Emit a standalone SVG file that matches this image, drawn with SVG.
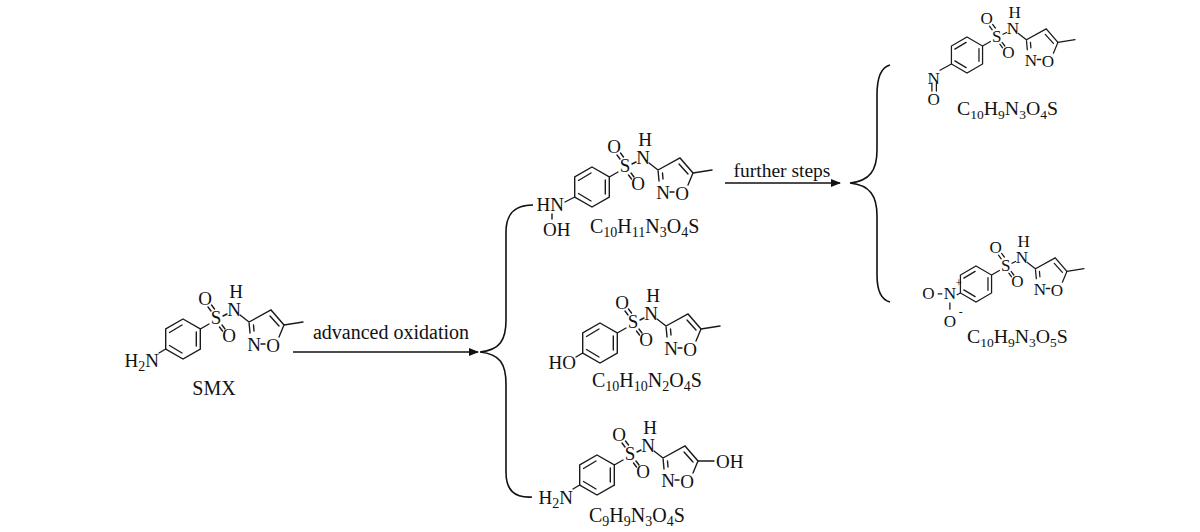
<svg xmlns="http://www.w3.org/2000/svg" xmlns:xlink="http://www.w3.org/1999/xlink" width="1200" height="532" viewBox="0 0 1200 532">
<style>
.b{fill:none;stroke:#1a1a1a;stroke-width:1.4;stroke-linecap:round}
.c{fill:none;stroke:#111;stroke-width:1.6}
text{font-family:"Liberation Serif","Times New Roman",serif;fill:#111}
.a{font-size:19px;text-anchor:middle}
.f{font-size:20px}
.s{font-size:14px}
</style>
<defs>
<marker id="ah" markerWidth="10" markerHeight="8" refX="9" refY="4" orient="auto" markerUnits="userSpaceOnUse"><path d="M0,0 L10,4 L0,8 Z" fill="#111"/></marker>
<path id="core" d="M0,-20 L17.3,-10 L17.3,10 L0,20 L-17.3,10 L-17.3,-10 Z M-13.5,-6.5 L-1,-14 M13.3,-7 L13.3,7 M-13.5,6.5 L-1,14 M17.3,-10 L26,-15 M28,-28 L25,-32 M31.5,-30 L28.5,-34 M39,-14 L42,-10 M36.5,-12 L39.5,-8 M40,-23 L44,-25 M57,-24 L66,-17 L88,-29 L101,-14 L96,-2 M87,-23 L96,-13 M66,-17 L67,-6 M70.5,-14 L71,-8 M78,5 L82,5"/>
<path id="me" d="M101,-14 L120,-17"/>
</defs>
<g id="connectors">
<path class="c" d="M293,352 L478,352" marker-end="url(#ah)"/>
<text x="391" y="339" style="font-size:20px;text-anchor:middle">advanced oxidation</text>
<path class="c" d="M725,183 L840,183" marker-end="url(#ah)"/>
<text x="782" y="177" style="font-size:19.5px;text-anchor:middle">further steps</text>
<path class="c" d="M480,352 C500,350 506,340 506,320 L506,232 C506,214 514,205 533,205 M480,352 C500,354 506,364 506,384 L506,472 C506,490 514,498 532,497"/>
<path class="c" d="M850,183 C870,181 877,170 877,150 L877,95 C877,77 882,67 890,65 M850,183 C870,185 877,196 877,216 L877,275 C877,292 882,300 890,302"/>
</g>
<g id="smx" transform="translate(183,339)">
<use xlink:href="#core" class="b"/><use xlink:href="#me" class="b"/>
<path class="b" d="M-17.3,10 L-24,14"/>
<text class="a" x="33" y="-15">S</text><text class="a" x="22" y="-34">O</text><text class="a" x="46" y="3">O</text><text class="a" x="51" y="-23">N</text><text class="a" x="53" y="-41">H</text><text class="a" x="71" y="12">N</text><text class="a" x="90" y="13">O</text>
<text x="-24" y="28" style="font-size:19px;text-anchor:end">H<tspan class="s" dy="4">2</tspan><tspan dy="-4">N</tspan></text>
<text class="f" x="31" y="56" text-anchor="middle">SMX</text>
</g>
<g id="p1" transform="translate(592,187)">
<use xlink:href="#core" class="b"/><use xlink:href="#me" class="b"/>
<path class="b" d="M-17.3,10 L-27,15 M-40,27 L-40,32"/>
<text class="a" x="33" y="-15">S</text><text class="a" x="22" y="-34">O</text><text class="a" x="46" y="3">O</text><text class="a" x="51" y="-23">N</text><text class="a" x="53" y="-41">H</text><text class="a" x="71" y="12">N</text><text class="a" x="90" y="13">O</text>
<text x="-28" y="24" style="font-size:19px;text-anchor:end">HN</text>
<text x="-49" y="49" style="font-size:19px">OH</text>
<text class="f" x="-2" y="46">C<tspan class="s" dy="4">10</tspan><tspan dy="-4">H</tspan><tspan class="s" dy="4">11</tspan><tspan dy="-4">N</tspan><tspan class="s" dy="4">3</tspan><tspan dy="-4">O</tspan><tspan class="s" dy="4">4</tspan><tspan dy="-4">S</tspan></text>
</g>
<g id="p2" transform="translate(600,343)">
<use xlink:href="#core" class="b"/><use xlink:href="#me" class="b"/>
<path class="b" d="M-17.3,10 L-24,14"/>
<text class="a" x="33" y="-15">S</text><text class="a" x="22" y="-34">O</text><text class="a" x="46" y="3">O</text><text class="a" x="51" y="-23">N</text><text class="a" x="53" y="-41">H</text><text class="a" x="71" y="12">N</text><text class="a" x="90" y="13">O</text>
<text x="-24" y="26" style="font-size:19px;text-anchor:end">HO</text>
<text class="f" x="-8" y="44">C<tspan class="s" dy="4">10</tspan><tspan dy="-4">H</tspan><tspan class="s" dy="4">10</tspan><tspan dy="-4">N</tspan><tspan class="s" dy="4">2</tspan><tspan dy="-4">O</tspan><tspan class="s" dy="4">4</tspan><tspan dy="-4">S</tspan></text>
</g>
<g id="p3" transform="translate(597,475)">
<use xlink:href="#core" class="b"/>
<path class="b" d="M-17.3,10 L-24,14 M101,-14 L117,-14"/>
<text class="a" x="33" y="-15">S</text><text class="a" x="22" y="-34">O</text><text class="a" x="46" y="3">O</text><text class="a" x="51" y="-23">N</text><text class="a" x="53" y="-41">H</text><text class="a" x="71" y="12">N</text><text class="a" x="90" y="13">O</text>
<text x="119" y="-7" style="font-size:19px">OH</text>
<text x="-24" y="29" style="font-size:19px;text-anchor:end">H<tspan class="s" dy="4">2</tspan><tspan dy="-4">N</tspan></text>
<text class="f" x="-8" y="47">C<tspan class="s" dy="4">9</tspan><tspan dy="-4">H</tspan><tspan class="s" dy="4">9</tspan><tspan dy="-4">N</tspan><tspan class="s" dy="4">3</tspan><tspan dy="-4">O</tspan><tspan class="s" dy="4">4</tspan><tspan dy="-4">S</tspan></text>
</g>
<g id="p4" transform="translate(967,55) scale(0.9)">
<use xlink:href="#core" class="b"/><use xlink:href="#me" class="b"/>
<path class="b" d="M-17.3,10 L-30,17 M-39,31 L-39,40 M-34,31 L-34,40"/>
<text class="a" x="33" y="-15">S</text><text class="a" x="22" y="-34">O</text><text class="a" x="46" y="3">O</text><text class="a" x="51" y="-23">N</text><text class="a" x="53" y="-41">H</text><text class="a" x="71" y="12">N</text><text class="a" x="90" y="13">O</text>
<text class="a" x="-37" y="32">N</text>
<text class="a" x="-37" y="56">O</text>
<text class="f" x="-11" y="67" style="font-size:22px">C<tspan class="s" style="font-size:15px" dy="4">10</tspan><tspan dy="-4">H</tspan><tspan class="s" style="font-size:15px" dy="4">9</tspan><tspan dy="-4">N</tspan><tspan class="s" style="font-size:15px" dy="4">3</tspan><tspan dy="-4">O</tspan><tspan class="s" style="font-size:15px" dy="4">4</tspan><tspan dy="-4">S</tspan></text>
</g>
<g id="p5" transform="translate(976,284) scale(0.9)">
<use xlink:href="#core" class="b"/><use xlink:href="#me" class="b"/>
<path class="b" d="M-17.3,10 L-21,12 M-29,21 L-29,28 M-42,11 L-38,11"/>
<text class="a" x="-29" y="17">N</text><text class="a" x="-19" y="3" style="font-size:13px">+</text>
<text class="a" x="-53" y="17">O</text>
<text class="a" x="-29" y="48">O</text><text class="a" x="-17" y="36" style="font-size:13px">-</text>
<text class="a" x="33" y="-15">S</text><text class="a" x="22" y="-34">O</text><text class="a" x="46" y="3">O</text><text class="a" x="51" y="-23">N</text><text class="a" x="53" y="-41">H</text><text class="a" x="71" y="12">N</text><text class="a" x="90" y="13">O</text>
<text class="f" x="-10" y="66" style="font-size:22px">C<tspan class="s" style="font-size:15px" dy="4">10</tspan><tspan dy="-4">H</tspan><tspan class="s" style="font-size:15px" dy="4">9</tspan><tspan dy="-4">N</tspan><tspan class="s" style="font-size:15px" dy="4">3</tspan><tspan dy="-4">O</tspan><tspan class="s" style="font-size:15px" dy="4">5</tspan><tspan dy="-4">S</tspan></text>
</g>
</svg>
